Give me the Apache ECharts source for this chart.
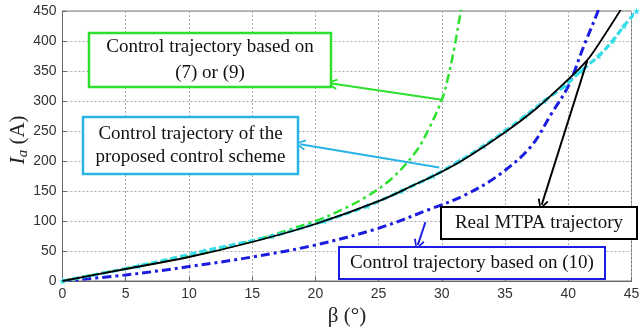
<!DOCTYPE html>
<html>
<head>
<meta charset="utf-8">
<script src="https://cdn.jsdelivr.net/npm/echarts@6/dist/echarts.min.js"></script>
<style>html,body{margin:0;padding:0;background:#fff}#c{width:641px;height:332px}</style>
</head>
<body>
<div id="c"></div>
<script>
// Real MTPA trajectory (black)
const realBeta = [0, 5, 10, 15, 20, 25, 28, 30, 32, 35, 37.5, 39.6, 41.5, 42.5, 44, 44.3];
const realIa   = [0, 20, 40, 65, 95, 133, 162, 182, 206, 248, 288, 328, 368, 398, 447, 458];
// Control trajectory based on (7) or (9) (green)
const eq79Beta = [0, 5, 10, 15, 20, 22, 24, 26, 28, 29, 30, 30.5, 31, 31.5, 31.7];
const eq79Ia   = [0, 21, 41, 67, 100, 118, 140, 170, 217, 255, 302, 340, 390, 450, 475];
// Control trajectory based on (10) (blue)
const eq10Beta = [0, 5, 10, 15, 20, 25, 29.1, 31.7, 34.4, 37, 38.7, 40, 41.2, 42.3, 42.5];
const eq10Ia   = [0, 10, 24, 40, 60, 88, 120, 142, 175, 223, 280, 325, 390, 447, 460];
// Control trajectory of the proposed control scheme (cyan, markers)
const propIa   = [0, 25, 50, 75, 100, 125, 150, 175, 200, 225, 250, 275, 300, 325, 350, 375, 400, 425, 450];
const propBeta = [0, 6.0, 11.2, 16.6, 20.7, 24.1, 26.8, 29.3, 31.4, 33.3, 35.0, 36.6, 38.1, 39.7, 41.0, 42.4, 43.5, 44.4, 45.4];

const xTicks = {min: 0, max: 45, interval: 5};
const yTicks = {min: 0, max: 450, interval: 50};

const labels = {
  green: ['Control trajectory based on', '(7) or (9)'],
  cyan: ['Control trajectory of the', 'proposed control scheme'],
  black: ['Real MTPA trajectory'],
  blue: ['Control trajectory based on (10)']
};

const zip = (a, b) => a.map((v, i) => [v, b[i]]);

const chevron = 'path://M5,0 L10,9 L8.6,10 L5,2.8 L1.4,10 L0,9 Z';
function arrow(from, to, color) {
  return {
    silent: true,
    symbol: ['none', chevron],
    symbolSize: 11,
    label: {show: false},
    lineStyle: {type: 'solid', color: color, width: 2},
    data: [[{coord: from}, {coord: to}]]
  };
}

const SERIF = '"Liberation Serif","Times New Roman",serif';
function box(x, y, w, h, stroke, lw, lines, gap) {
  const els = [{
    type: 'rect', z: 100,
    shape: {x: x, y: y, width: w, height: h},
    style: {fill: '#fff', stroke: stroke, lineWidth: lw}
  }];
  lines.forEach((t, i) => {
    const cy = y + h / 2 + (i - (lines.length - 1) / 2) * gap;
    els.push({
      type: 'text', z: 101,
      x: x + w / 2, y: cy,
      style: {text: t, fill: '#111', font: '19px ' + SERIF,
              align: 'center', verticalAlign: 'middle',
              textAlign: 'center', textVerticalAlign: 'middle'}
    });
  });
  return els;
}

const chart = echarts.init(document.getElementById('c'));
chart.setOption({
  animation: false,
  backgroundColor: '#fff',
  grid: {left: 62.5, right: 9.5, top: 11, bottom: 51, show: true, borderColor: '#777', borderWidth: 1,
         backgroundColor: 'transparent', containLabel: false, outerBoundsMode: 'none'},
  xAxis: {
    type: 'value', min: xTicks.min, max: xTicks.max, interval: xTicks.interval,
    name: 'β (°)', nameLocation: 'middle', nameGap: 25,
    nameTextStyle: {fontFamily: SERIF, fontSize: 21, color: '#222'},
    axisLine: {lineStyle: {color: '#666', width: 1}},
    axisTick: {inside: true, length: 4, lineStyle: {color: '#666'}},
    axisLabel: {fontFamily: '"Liberation Sans",Arial,sans-serif', fontSize: 14, color: '#333', margin: 6},
    splitLine: {show: true, lineStyle: {color: '#aaa', type: [2, 2], width: 1}}
  },
  yAxis: {
    type: 'value', min: yTicks.min, max: yTicks.max, interval: yTicks.interval,
    name: '{i|I}{s|a}{n| (A)}', nameLocation: 'middle', nameGap: 32, nameRotate: 90,
    nameMoveOverlap: false,
    nameTextStyle: {
      color: '#222',
      padding: [0, 0, 0, 12],
      rich: {
        i: {fontFamily: SERIF, fontStyle: 'italic', fontSize: 22, color: '#222'},
        s: {fontFamily: SERIF, fontStyle: 'italic', fontSize: 15, color: '#222', padding: [10, 0, 0, 0]},
        n: {fontFamily: SERIF, fontSize: 21, color: '#222'}
      }
    },
    axisLine: {show: true, lineStyle: {color: '#666', width: 1}},
    axisTick: {show: true, inside: true, length: 4, lineStyle: {color: '#666'}},
    axisLabel: {fontFamily: '"Liberation Sans",Arial,sans-serif', fontSize: 14, color: '#333', margin: 6},
    splitLine: {show: true, lineStyle: {color: '#aaa', type: [2, 2], width: 1}}
  },
  series: [
    {
      name: 'Control trajectory based on (10)', type: 'line', data: zip(eq10Beta, eq10Ia),
      smooth: 0.35, showSymbol: false, z: 2,
      lineStyle: {color: '#1c1ce0', width: 3, type: [9, 4, 3, 4]},
      markLine: arrow([28.7, 98], [28.1, 60], '#1c1ce0')
    },
    {
      name: 'Control trajectory based on (7) or (9)', type: 'line', data: zip(eq79Beta, eq79Ia),
      smooth: 0.35, showSymbol: false, z: 3,
      lineStyle: {color: '#2ee02e', width: 2.5, type: [9, 4, 3, 4]},
      markLine: arrow([30.0, 302], [21.3, 329], '#2ee02e')
    },
    {
      name: 'Control trajectory of the proposed control scheme', type: 'line', data: zip(propBeta, propIa),
      smooth: 0.35, showSymbol: true, symbol: 'path://M5,0 L6.2,3.8 L10,3.8 L7,6.2 L8.1,10 L5,7.7 L1.9,10 L3,6.2 L0,3.8 L3.8,3.8 Z',
      symbolSize: 7, clip: false, z: 4,
      itemStyle: {color: '#33dde8'},
      lineStyle: {color: '#33dde8', width: 3.2, type: [7, 3]},
      markLine: arrow([29.8, 189], [18.8, 228], '#2ab4e6')
    },
    {
      name: 'Real MTPA trajectory', type: 'line', data: zip(realBeta, realIa),
      smooth: 0.35, showSymbol: false, z: 5,
      lineStyle: {color: '#000', width: 1.8},
      markLine: arrow([41.5, 367], [37.9, 127], '#000')
    }
  ],
  graphic: [].concat(
    box(89, 33, 242, 54, '#2ee02e', 2.5, labels.green, 26),
    box(83, 117, 215, 57, '#2ab4e6', 2.5, labels.cyan, 23),
    box(441, 207, 196, 32, '#000', 2, labels.black, 0),
    box(339, 247, 266, 32, '#1c1ce0', 2, labels.blue, 0)
  )
});
</script>
</body>
</html>
